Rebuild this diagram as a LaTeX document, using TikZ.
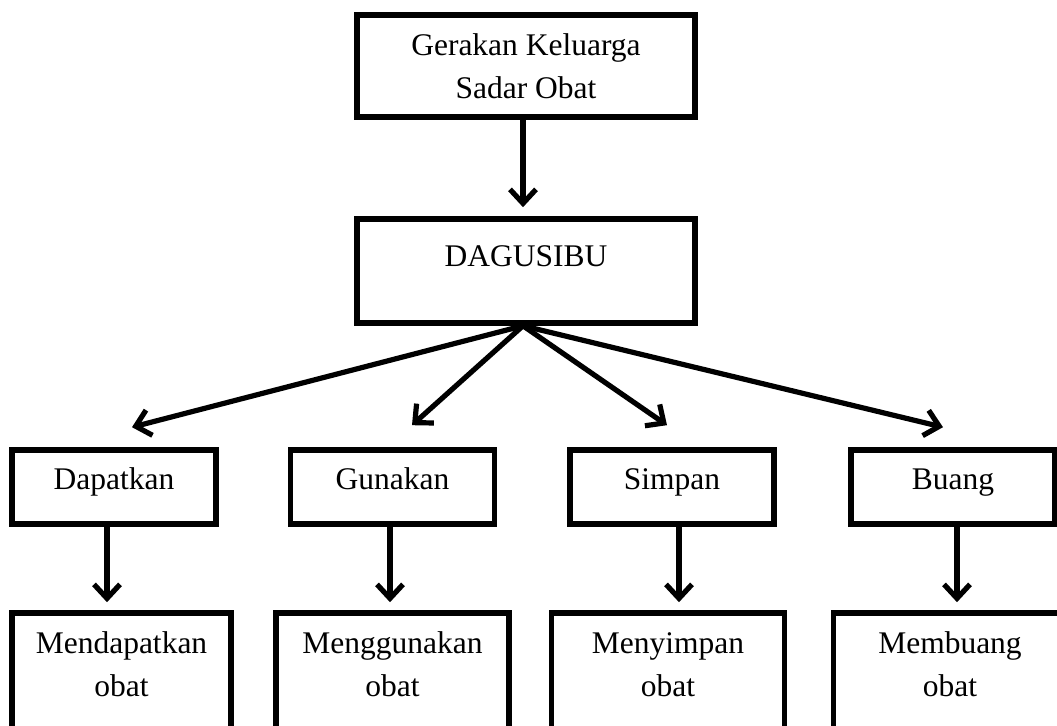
\documentclass[tikz,border=0pt]{standalone}
\usepackage{fontspec}
\setmainfont{Liberation Serif}
\usetikzlibrary{arrows.meta}
\tikzset{%
	kotak/.style  = {draw, rectangle, line width=2.8pt, inner sep=0pt, align=center, font=\fontsize{15.75pt}{21.5pt}\selectfont},
	cabang/.style = {kotak, minimum width=102pt, minimum height=37pt, text height=10.5pt, text depth=7.5pt},
	hasil/.style  = {kotak, minimum width=116.5pt, minimum height=73pt},
	panah/.style  = {line width=2.6pt, -{Straight Barb[length=7pt,width=13pt]}},
}
\begin{document}
\begin{tikzpicture}[x=0.5pt,y=-0.5pt]
	\useasboundingbox (0,0) rectangle (1057,726);
	
	\node[kotak, minimum width=169pt, minimum height=51pt] (gkso) at (526,66) {Gerakan Keluarga\\Sadar Obat};
	\node[kotak, minimum width=169pt, minimum height=52pt, text height=10.5pt, text depth=14.5pt] (dgsb) at (526,271) {DAGUSIBU};
	
	% empat langkah
	\node[cabang] (dap) at (114,487) {Dapatkan};
	\node[cabang] (gun) at (392.5,487) {Gunakan};
	\node[cabang] (sim) at (672,487) {Simpan};
	\node[cabang] (bua) at (953,487) {Buang};
	
	% kotak bawah (terpotong)
	\node[hasil, minimum width=109.5pt] (mdap) at (121.5,686) {Mendapatkan\\obat\\\mbox{}};
	\node[hasil] (mgun) at (392.5,686) {Menggunakan\\obat\\\mbox{}};
	\node[hasil] (msim) at (668,686) {Menyimpan\\obat\\\mbox{}};
	\node[hasil] (mbua) at (950,686) {Membuang\\obat\\\mbox{}};
	
	\draw[panah, shorten >=4.5pt] ([xshift=-1.5pt]gkso.south) -- ([xshift=-1.5pt]dgsb.north);
	
	\draw[panah] ([xshift=-1.5pt]dgsb.south) -- ([shift={(18,-20)}]dap.north);
	\draw[panah] ([xshift=-1.5pt]dgsb.south) -- ([shift={(19.5,-22)}]gun.north);
	\draw[panah] ([xshift=-1.5pt]dgsb.south) -- ([shift={(-5,-22)}]sim.north);
	\draw[panah] ([xshift=-1.5pt]dgsb.south) -- ([shift={(-10,-20)}]bua.north);
	
	\draw[panah, shorten >=4pt] ([xshift=-3.5pt]dap.south) -- ([xshift=-3.5pt]dap.south |- mdap.north);
	\draw[panah, shorten >=4pt] ([xshift=-1.25pt]gun.south) -- ([xshift=-1.25pt]gun.south |- mgun.north);
	\draw[panah, shorten >=4pt] ([xshift=3.5pt]sim.south) -- ([xshift=3.5pt]sim.south |- msim.north);
	\draw[panah, shorten >=4pt] ([xshift=2pt]bua.south) -- ([xshift=2pt]bua.south |- mbua.north);
	
\end{tikzpicture}
\end{document}
